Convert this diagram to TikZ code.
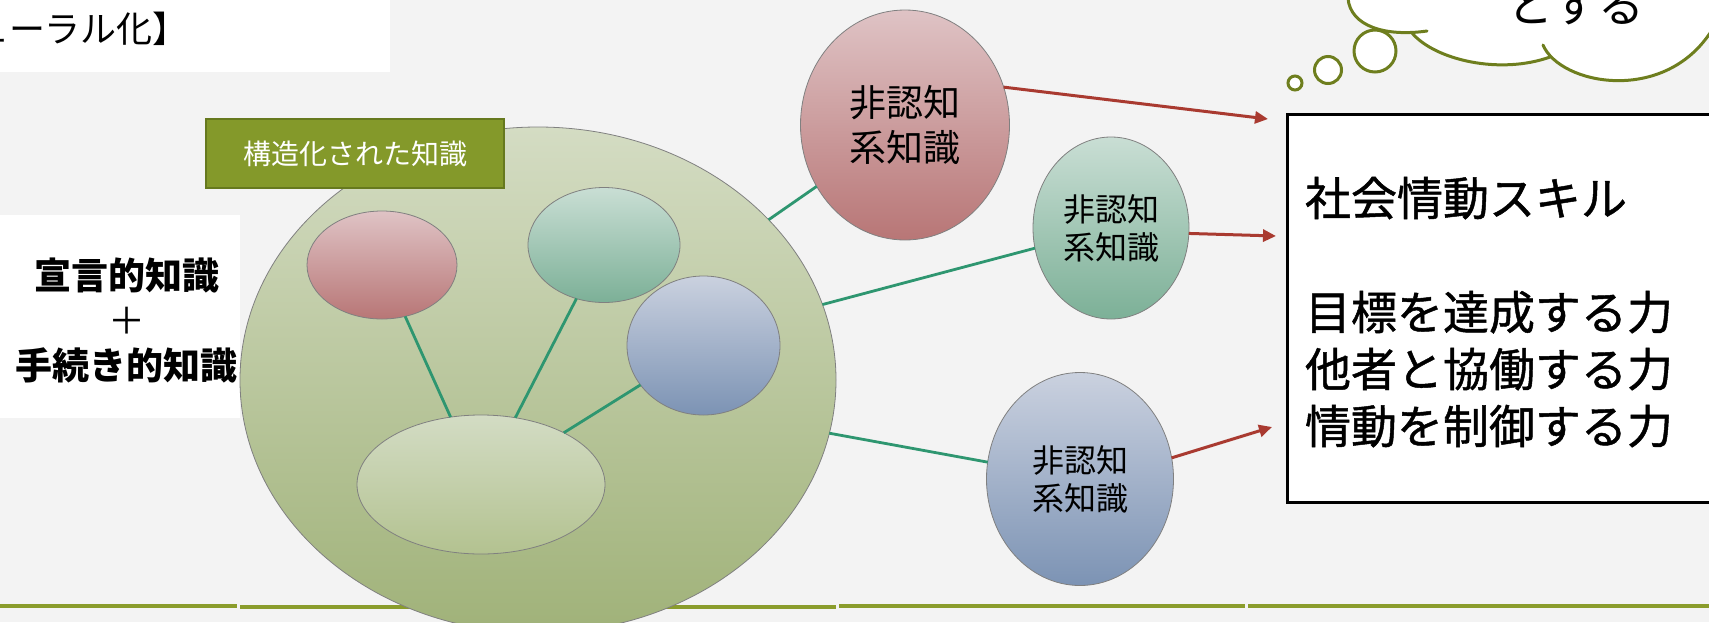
\documentclass[tikz,border=0pt]{standalone}
\usepackage{fontspec}
\setmainfont{Noto Sans CJK JP}
\newfontfamily\medfont{Noto Sans CJK JP}[FakeBold=1]
\usetikzlibrary{shapes.geometric,arrows.meta}
\definecolor{bg}{HTML}{F3F3F3}
\definecolor{rtop}{HTML}{DFC3C5}
\definecolor{rbot}{HTML}{B87676}
\definecolor{ttop}{HTML}{C9DED4}
\definecolor{tbot}{HTML}{7CB097}
\definecolor{btop}{HTML}{CAD1DF}
\definecolor{bbot}{HTML}{7C93B4}
\definecolor{gtop}{HTML}{D4DCC3}
\definecolor{gbot}{HTML}{A0B279}
\definecolor{ltop}{HTML}{D3DCC4}
\definecolor{lbot}{HTML}{B3C290}
\definecolor{labelgreen}{HTML}{84992A}
\definecolor{labelborder}{HTML}{66791E}
\definecolor{linkgreen}{HTML}{2E9670}
\definecolor{arrred}{HTML}{A93A30}
\definecolor{cloudgreen}{HTML}{6E7E1E}
\definecolor{linegreen}{HTML}{8A9C2C}
\tikzset{
  knode/.style={ellipse, draw=black!50, line width=0.8pt, inner sep=0pt, outer sep=0pt, align=center},
  redfill/.style={top color=rtop, bottom color=rbot},
  tealfill/.style={top color=ttop, bottom color=tbot},
  bluefill/.style={top color=btop, bottom color=bbot},
  link/.style={draw=linkgreen, line width=2.8pt},
  arr/.style={draw=arrred, line width=3pt, -{Triangle[length=13pt,width=12pt]}},
  cloudline/.style={draw=cloudgreen, line width=3pt, line cap=round},
  whitebox/.style={fill=white, draw=none, inner sep=0pt, outer sep=0pt},
  txt/.style={inner sep=0pt, outer sep=0pt},
  skilltext/.style={txt, anchor=base west, font=\fontsize{46}{57}\medfont},
}
\begin{document}
\begin{tikzpicture}[x=1pt,y=-1pt]
\useasboundingbox (0,0) rectangle (1709,622);
\begin{scope}
\clip (0,0) rectangle (1709,622);
\fill[bg] (0,0) rectangle (1709,622);
% bottom rule
\draw[draw=linegreen, line width=4pt] (0,606) -- (237,606);
\draw[draw=linegreen, line width=4pt] (240,607) -- (836,607);
\draw[draw=linegreen, line width=4pt] (839,606) -- (1245,606);
\draw[draw=linegreen, line width=4pt] (1248,606) -- (1709,606);
% white boxes
\node[whitebox, minimum width=395pt, minimum height=77pt] (topbox) at (192.5,33.5) {};
\node[txt, anchor=base west, font=\fontsize{36}{40}\selectfont] (title) at (-27,42) {ューラル化】};
\node[whitebox, minimum width=245pt, minimum height=203pt] (leftbox) at (117.5,316.5) {};
\node[txt, anchor=base, font=\fontsize{37}{45}\bfseries\selectfont] (decl) at (127,289) {宣言的知識};
\node[txt, anchor=base, font=\fontsize{37}{45}\selectfont] (plus) at (127,334) {＋};
\node[txt, anchor=base, font=\fontsize{37}{45}\bfseries\selectfont] (proc) at (127,379) {手続き的知識};
% big ellipse
\node[knode, top color=gtop, bottom color=gbot, minimum width=596pt, minimum height=506pt] (big) at (538,380) {};
% inner ellipses
\node[knode, redfill, minimum width=150pt, minimum height=108pt] (ir) at (382,265) {};
\node[knode, tealfill, minimum width=152pt, minimum height=115pt] (it) at (604,245) {};
\node[knode, bluefill, minimum width=153pt, minimum height=139pt] (ib) at (703.5,345.5) {};
\node[knode, top color=ltop, bottom color=lbot, minimum width=248pt, minimum height=139pt] (il) at (481,484.5) {};
\draw[link] (ir) -- (il);
\draw[link] (it) -- (il);
\draw[link] (ib) -- (il);
% label
\node[fill=labelgreen, draw=labelborder, line width=2pt, minimum width=298pt, minimum height=69pt, inner sep=0pt, text=white, font=\fontsize{28}{32}\selectfont] (lab) at (355,153.5) {構造化された知識};
% outer ellipses
\node[knode, redfill, minimum width=209pt, minimum height=230pt, font=\fontsize{37}{45}\selectfont] (r) at (905,125) {非認知\\系知識};
\node[knode, tealfill, minimum width=156pt, minimum height=182pt, font=\fontsize{32}{38}\selectfont] (t) at (1111,228) {非認知\\系知識};
\node[knode, bluefill, minimum width=187pt, minimum height=213pt, font=\fontsize{32}{38}\selectfont] (b) at (1080,479) {非認知\\系知識};
\draw[link] (big) -- (r);
\draw[link] (big) -- (t);
\draw[link] (big) -- (b);
% right box
\node[fill=white, draw=black, line width=3pt, minimum width=440pt, minimum height=388pt, inner sep=0pt] (skill) at (1507,308) {};
\coordinate (t1) at (1268,119);
\coordinate (t2) at (1276,236);
\coordinate (t3) at (1272,427);
\draw[arr] (r.21) -- (t1);
\draw[arr] (t.-4) -- (t2);
\draw[arr] (b.13) -- (t3);
\node[skilltext] (s0) at (1305,215.5) {社会情動スキル};
\node[skilltext] (s1) at (1305,329.5) {目標を達成する力};
\node[skilltext] (s2) at (1305,386.5) {他者と協働する力};
\node[skilltext] (s3) at (1305,443.5) {情動を制御する力};
% thought cloud
\fill[white] (1348,-5) -- (1348,-2) .. controls (1350,26) and (1380,36) .. (1412,34)
  .. controls (1435,60) and (1500,75) .. (1550,57)
  .. controls (1575,85) and (1665,103) .. (1715,30) -- (1715,-5) -- cycle;
\draw[cloudline] (1348,-2) .. controls (1350,26) and (1385,37) .. (1427,31);
\draw[cloudline] (1412,33) .. controls (1435,60) and (1500,75) .. (1550,57);
\draw[cloudline] (1543,45) .. controls (1560,85) and (1665,105) .. (1712,30);
\node[txt, anchor=base, font=\fontsize{46}{57}\selectfont] (cloudtext) at (1576,22) {とする};
\node[circle, draw=cloudgreen, line width=3pt, fill=white, minimum size=14pt, inner sep=0pt] (c1) at (1295,83) {};
\node[circle, draw=cloudgreen, line width=3pt, fill=white, minimum size=27pt, inner sep=0pt] (c2) at (1328,70) {};
\node[circle, draw=cloudgreen, line width=3pt, fill=white, minimum size=42pt, inner sep=0pt] (c3) at (1375,51) {};
\end{scope}
\end{tikzpicture}
\end{document}
